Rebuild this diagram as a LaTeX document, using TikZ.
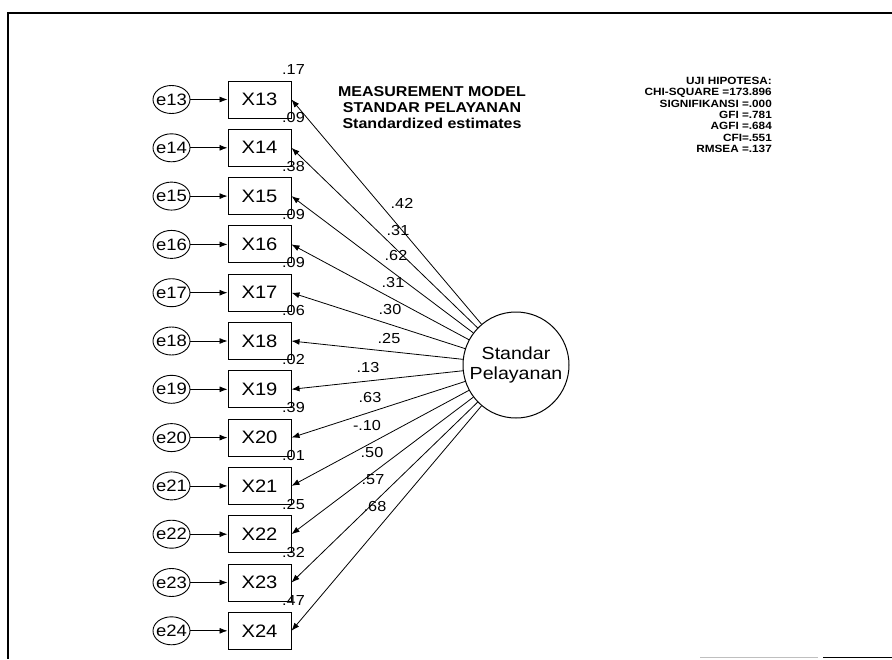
\documentclass[tikz,border=0pt]{standalone}
\usepackage{fontspec}
\setmainfont{Liberation Sans}[FakeStretch=1.12]
\usetikzlibrary{shapes.geometric,arrows.meta}

\begin{document}
\begin{tikzpicture}[x=1pt, y=-1pt, node distance=48.3pt,
  obs node/.style={rectangle, draw, line width=1pt, minimum width=63pt, minimum height=37pt, inner sep=0pt, font=\fontsize{18}{20}\selectfont},
  err node/.style={ellipse, draw, line width=0.9pt, minimum width=37pt, minimum height=28pt, inner sep=0pt, font=\fontsize{16.5}{18}\selectfont},
  lat node/.style={circle, draw, line width=1pt, minimum size=106pt, inner sep=0pt, align=center, font=\fontsize{17.5}{20}\selectfont},
  coef/.style={inner sep=0pt, font=\fontsize{14.5}{16}\selectfont},
  fleche/.style={line width=0.8pt, -{Latex[length=8pt,width=6pt]}}]
  \useasboundingbox (0,0) rectangle (892,659);

  % Cadre
  \draw[line width=1.2pt] (892,13) -- (8,13) -- (8,659);
  \draw[gray!50, line width=0.8pt] (700,657.5) -- (818,657.5);
  \draw[line width=1.2pt] (823,657.5) -- (892,657.5);

  % Indicateurs
  \node[obs node] (X13) at (259.5,99.5) {X13};
  \node[obs node] (X14) [below of=X13] {X14};
  \node[obs node] (X15) [below of=X14] {X15};
  \node[obs node] (X16) [below of=X15] {X16};
  \node[obs node] (X17) [below of=X16] {X17};
  \node[obs node] (X18) [below of=X17] {X18};
  \node[obs node] (X19) [below of=X18] {X19};
  \node[obs node] (X20) [below of=X19] {X20};
  \node[obs node] (X21) [below of=X20] {X21};
  \node[obs node] (X22) [below of=X21] {X22};
  \node[obs node] (X23) [below of=X22] {X23};
  \node[obs node] (X24) [below of=X23] {X24};

  % Erreurs
  \node[err node] (e13) [left of=X13, xshift=-39.7pt] {\makebox[18pt]{e13}};
  \node[err node] (e14) [left of=X14, xshift=-39.7pt] {\makebox[18pt]{e14}};
  \node[err node] (e15) [left of=X15, xshift=-39.7pt] {\makebox[18pt]{e15}};
  \node[err node] (e16) [left of=X16, xshift=-39.7pt] {\makebox[18pt]{e16}};
  \node[err node] (e17) [left of=X17, xshift=-39.7pt] {\makebox[18pt]{e17}};
  \node[err node] (e18) [left of=X18, xshift=-39.7pt] {\makebox[18pt]{e18}};
  \node[err node] (e19) [left of=X19, xshift=-39.7pt] {\makebox[18pt]{e19}};
  \node[err node] (e20) [left of=X20, xshift=-39.7pt] {\makebox[18pt]{e20}};
  \node[err node] (e21) [left of=X21, xshift=-39.7pt] {\makebox[18pt]{e21}};
  \node[err node] (e22) [left of=X22, xshift=-39.7pt] {\makebox[18pt]{e22}};
  \node[err node] (e23) [left of=X23, xshift=-39.7pt] {\makebox[18pt]{e23}};
  \node[err node] (e24) [left of=X24, xshift=-39.7pt] {\makebox[18pt]{e24}};

  % Variable latente
  \node[lat node] (SP) at (516,365) {Standar\\Pelayanan};

  % Arcs des erreurs
  \draw[fleche] (e13) -- (X13);
  \draw[fleche] (e14) -- (X14);
  \draw[fleche] (e15) -- (X15);
  \draw[fleche] (e16) -- (X16);
  \draw[fleche] (e17) -- (X17);
  \draw[fleche] (e18) -- (X18);
  \draw[fleche] (e19) -- (X19);
  \draw[fleche] (e20) -- (X20);
  \draw[fleche] (e21) -- (X21);
  \draw[fleche] (e22) -- (X22);
  \draw[fleche] (e23) -- (X23);
  \draw[fleche] (e24) -- (X24);

  % Saturations
  \draw[fleche] (SP) -- (X13.east);
  \draw[fleche] (SP) -- (X14.east);
  \draw[fleche] (SP) -- (X15.east);
  \draw[fleche] (SP) -- (X16.east);
  \draw[fleche] (SP) -- (X17.east);
  \draw[fleche] (SP) -- (X18.east);
  \draw[fleche] (SP) -- (X19.east);
  \draw[fleche] (SP) -- (X20.east);
  \draw[fleche] (SP) -- (X21.east);
  \draw[fleche] (SP) -- (X22.east);
  \draw[fleche] (SP) -- (X23.east);
  \draw[fleche] (SP) -- (X24.east);

  % Coefficients
  \node[coef] at (402,203) {.42};
  \node[coef] at (398,231) {.31};
  \node[coef] at (396,256) {.62};
  \node[coef] at (393,283) {.31};
  \node[coef] at (390,310) {.30};
  \node[coef] at (389,339) {.25};
  \node[coef] at (368,368) {.13};
  \node[coef] at (370,398) {.63};
  \node[coef] at (367,426) {-.10};
  \node[coef] at (372,453) {.50};
  \node[coef] at (373,480) {.57};
  \node[coef] at (375,507) {.68};

  % Correlations multiples
  \node[coef] at ([xshift=2pt, yshift=11pt]X13.north east) {.17};
  \node[coef] at ([xshift=2pt, yshift=11pt]X14.north east) {.09};
  \node[coef] at ([xshift=2pt, yshift=11pt]X15.north east) {.38};
  \node[coef] at ([xshift=2pt, yshift=11pt]X16.north east) {.09};
  \node[coef] at ([xshift=2pt, yshift=11pt]X17.north east) {.09};
  \node[coef] at ([xshift=2pt, yshift=11pt]X18.north east) {.06};
  \node[coef] at ([xshift=2pt, yshift=11pt]X19.north east) {.02};
  \node[coef] at ([xshift=2pt, yshift=11pt]X20.north east) {.39};
  \node[coef] at ([xshift=2pt, yshift=11pt]X21.north east) {.01};
  \node[coef] at ([xshift=2pt, yshift=11pt]X22.north east) {.25};
  \node[coef] at ([xshift=2pt, yshift=11pt]X23.north east) {.32};
  \node[coef] at ([xshift=2pt, yshift=11pt]X24.north east) {.47};

  % Titres
  \node[align=center, inner sep=0pt, font=\fontsize{14.3}{15.8}\selectfont\bfseries] (titre) at (432,107.5)
    {MEASUREMENT MODEL\\STANDAR PELAYANAN\\Standardized estimates};
  \node[align=right, anchor=north east, inner sep=0pt, font=\fontsize{10.5}{11.3}\selectfont\bfseries] (uji) at (772,77)
    {UJI HIPOTESA:\\CHI-SQUARE =173.896\\SIGNIFIKANSI =.000\\GFI =.781\\AGFI =.684\\CFI=.551\\RMSEA =.137};
\end{tikzpicture}
\end{document}
